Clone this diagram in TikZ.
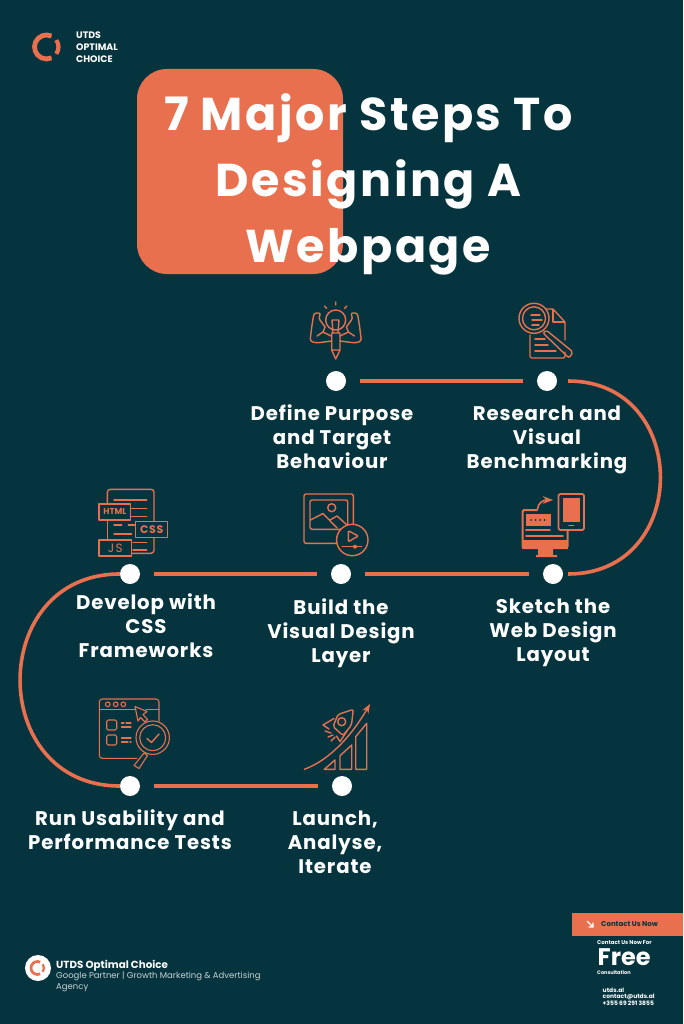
\documentclass[tikz,border=0pt]{standalone}
\usepackage{fontspec}
\setmainfont{Poppins}
\usetikzlibrary{calc,positioning,arrows.meta}
\definecolor{bgteal}{HTML}{05343F}
\definecolor{coral}{HTML}{E8704F}
\definecolor{softgrey}{HTML}{C9D3D5}

\begin{document}
\begin{tikzpicture}[x=1pt,y=-1pt,>=Stealth,
	dot/.style={circle,fill=white,inner sep=0pt,minimum size=20pt},
	road/.style={draw=coral,line width=3.6pt},
	steplabel/.style={text=white,align=center,font=\fontsize{19.7}{24}\selectfont\bfseries\addfontfeatures{LetterSpace=4.5}},
	icn/.style={draw=coral,line width=1.4pt,line join=round,line cap=round},
	thinicn/.style={icn,line width=1.1pt},
	iconword/.style={text=coral,inner sep=0pt,font=\fontsize{8.5}{8.5}\selectfont\bfseries}
	]

	\useasboundingbox (0,0) rectangle (683,1024);
	\fill[bgteal] (0,0) rectangle (683,1024);

	% logo top left
	\draw[coral,line width=4.8pt] (51.6,36.1) arc (-65:-295:12);
	\draw[coral,line width=4.2pt] (56.3,40.1) arc (-35:35:12);
	\node[anchor=west,text=white,align=left,inner sep=0pt,font=\fontsize{9.4}{12}\selectfont\bfseries] (brand) at (76,47) {UTDS\\OPTIMAL\\CHOICE};

	% title
	\fill[coral,rounded corners=30pt] (137,69) rectangle (343,274);
	\node[text=white,align=center,font=\fontsize{46}{66}\selectfont\bfseries\addfontfeatures{LetterSpace=5.5}] (title) at (368.5,184) {7 Major Steps To\\Designing A\\Webpage};

	% stops
	\node[dot] (n1) at (336,381) {};
	\node[dot] (n2) at (547,381) {};
	\node[dot] (n3) at (553,574) {};
	\node[dot] (n4) at (341,574) {};
	\node[dot] (n5) at (130,574) {};
	\node[dot] (n6) at (130,786) {};
	\node[dot] (n7) at (342,786) {};

	\draw[road,shorten <=14pt,shorten >=14pt] (n1) -- (n2);
	\draw[road,shorten <=11pt,shorten >=5pt] (n2.east) .. controls +(134,0) and +(128,0) .. (n3.east);
	\draw[road,shorten <=14pt,shorten >=14pt] (n3) -- (n4);
	\draw[road,shorten <=14pt,shorten >=14pt] (n4) -- (n5);
	\draw[road] (n5.west) .. controls +(-133,0) and +(-133,0) .. (n6.west);
	\draw[road,shorten <=14pt,shorten >=14pt] (n6) -- (n7);

	\node[steplabel] (l1) at (332,437) {Define Purpose\\and Target\\Behaviour};
	\node[steplabel] (l2) at (547,440) {Research and\\Visual\\Benchmarking};
	\node[steplabel] (l3) at (553,633) {Sketch the\\Web Design\\Layout};
	\node[steplabel] (l4) at (341,633) {Build the\\Visual Design\\Layer};
	\node[steplabel] (l5) at (146,626) {Develop with\\CSS\\Frameworks};
	\node[steplabel] (l6) at (130,830) {Run Usability and\\Performance Tests};
	\node[steplabel] (l7) at (335,842) {Launch,\\Analyse,\\Iterate};

	% bulb and arms
	\draw[icn] (335.7,320) circle (10);
	\draw[icn] (335.7,302) -- (335.7,305) (324.5,306) -- (326.7,308.3) (346.9,306) -- (344.7,308.3);
	\draw[icn] (331.7,333) -- (331.7,350) -- (335.7,359) -- (340,350) -- (340,333) -- cycle (331.7,350) -- (340,350);
	\draw[icn] (332,320) -- (333,333) (339,320) -- (338,333) (332,320) -- (339,320);
	\draw[icn,rounded corners=2.5pt] (325,327) -- (318.5,318) -- (321,313) -- (314,313) -- (312,325) -- (310,341) -- (316,343) -- (331.7,341);
	\draw[icn,rounded corners=2.5pt] (346.4,327) -- (352.9,318) -- (350.4,313) -- (357.4,313) -- (359.4,325) -- (361.4,341) -- (355.4,343) -- (340,341);
	\draw[icn] (317,336) -- (323,332) -- (331,336) (354.4,336) -- (348.4,332) -- (340,336);
	\draw[icn] (325,327) -- (323,332) (346.4,327) -- (348.4,332);

	% magnifier on a document
	\draw[icn,rounded corners=1.5pt] (546,309) -- (553,309) -- (565,322) -- (565,340) (565,352) -- (565,358) -- (530,358) -- (530,335);
	\draw[icn] (553,309) -- (553,322) -- (565,322);
	\draw[icn] (534,318.3) circle (15);
	\draw[icn] (534,318.3) circle (11.5);
	\draw[icn] (531,315) -- (540,315) (532,320) -- (542,320) (532,325) -- (539,325) (535,339) -- (545,339) (535,345) -- (548,345) (535,351) -- (556,351);
	\draw[icn,rounded corners=2pt] (543,333) -- (546,330) -- (573,352) -- (569,358) -- cycle;

	% screen and tablet
	\draw[icn,line width=2pt,rounded corners=1.5pt] (537,510) -- (522.5,510) -- (522.5,548) -- (567.5,548) -- (567.5,531);
	\fill[coral] (522,540) rectangle (568,549);
	\fill[coral] (538,549) rectangle (553,555) (536,555) rectangle (557,557);
	\fill[coral] (526,514) rectangle (551,526);
	\foreach \i in {531,535.5,540,544.5} \fill[bgteal] (\i,520) circle (1);
	\draw[icn,line width=1.6pt] (526,530) -- (550,530) (526,536) -- (563,536);
	\draw[icn,line width=1.8pt,rounded corners=2pt] (558.5,494) rectangle (584,530);
	\fill[coral] (562.7,498.3) rectangle (580,521.7);
	\draw[icn,line width=1.6pt] (569,525.5) -- (573.5,525.5);
	\draw[icn,line width=1.6pt,->] (537.5,509) .. controls (538,503) and (543,500) .. (553,500);

	% picture with play button
	\draw[icn,rounded corners=2pt] (304,494) rectangle (353.3,543.3);
	\draw[icn,rounded corners=2pt] (310,500) rectangle (347.7,529.3);
	\draw[icn] (331.7,507.7) circle (4);
	\draw[icn] (310.5,520) -- (323,513.5) -- (337,528) (330,520) -- (337,516) -- (347,525);
	\draw[icn,fill=bgteal] (352.3,540) circle (15.7);
	\draw[icn,rounded corners=1pt] (348.3,530.7) -- (358.3,536) -- (348.3,541.7) -- cycle;
	\draw[icn] (342.3,546.7) -- (361.7,546.7);
	\fill[coral] (355,546.7) circle (2);

	% code sheet
	\draw[icn,rounded corners=3pt] (107.3,504) -- (107.3,489.3) -- (154,489.3) -- (154,521.7) (154,537.7) -- (154,553.3) -- (131.7,553.3);
	\draw[icn] (107.3,520) -- (107.3,540);
	\draw[icn] (114,500) -- (146.7,500) (131.7,508.3) -- (146.7,508.3) (131.7,516.7) -- (146.7,516.7);
	\draw[icn] (114,525) -- (121.7,525) (128.3,525) -- (135,525) (114,534) -- (131.7,534) (133,542.7) -- (146.7,542.7) (133,550) -- (146.7,550);
	\node[icn,rectangle,inner sep=0pt,minimum width=31.7pt,minimum height=16pt,iconword] (html) at (114.9,512) {HTML};
	\node[icn,rectangle,inner sep=0pt,minimum width=32pt,minimum height=16pt,iconword,font=\fontsize{11}{11}\selectfont\bfseries\addfontfeatures{LetterSpace=6}] (css) at (151.7,529.7) {CSS};
	\node[icn,rectangle,inner sep=0pt,minimum width=32.7pt,minimum height=16pt,iconword,font=\fontsize{12}{12}\selectfont\addfontfeatures{LetterSpace=10}] (js) at (115.3,548) {JS};

	% browser window under test
	\draw[thinicn,rounded corners=3pt] (137,758.3) -- (99.3,758.3) -- (99.3,699) -- (159,699) -- (159,721);
	\draw[thinicn] (99.3,709.3) -- (136,709.3) (146,709.3) -- (159,709.3);
	\foreach \i in {107.7,115.7,123.3} \draw[thinicn] (\i,704.3) circle (2.3);
	\draw[thinicn,rounded corners=1.5pt] (106.7,720) rectangle (116.7,730) (106.7,735) rectangle (116.7,745);
	\draw[thinicn] (121.5,723) -- (124,723) (126,723) -- (131,723) (121.5,727) -- (131,727) (121.5,738) -- (131,738) (121.5,742) -- (128,742) (130,742) -- (131,742);
	\draw[thinicn] (135,706.5) -- (147,711.5) -- (143,714.5) -- (147.5,719.5) -- (145,722) -- (140.5,717.5) -- (138,721) -- cycle;
	\draw[thinicn,fill=bgteal] (144,753) -- (147.5,755.5) -- (139,768.5) -- (134,765.5) -- cycle;
	\draw[thinicn,fill=bgteal] (152.7,737.7) circle (16.7);
	\draw[thinicn] (152.7,737.7) circle (13);
	\draw[icn] (147,738.5) -- (151.5,742.5) -- (159,734);

	% rocket and bars
	\draw[icn,->] (304.3,769.3) .. controls (330,760) and (352,735) .. (370,704);
	\draw[icn] (324.3,769.3) -- (335,769.3) -- (335,760) -- cycle;
	\draw[icn] (340,769.3) -- (351.7,769.3) -- (351.7,745) -- (340,755.7) -- cycle;
	\draw[icn] (355.7,769.3) -- (366.7,769.3) -- (366.7,723.3) -- (355.7,736.7) -- cycle;
	\draw[icn,rounded corners=2pt] (353.3,709.3) -- (338,714.5) -- (333,726.5) -- (343,735.5) -- (351.5,725) -- cycle;
	\draw[icn] (341.7,721.7) circle (4);
	\draw[icn] (334,718.5) -- (323,725) -- (329,729) (347,731) -- (340,741.5) -- (336.5,736);
	\draw[icn] (325,731) -- (331,733) (328,737) -- (333,735) (331,741) -- (335,737);

	% footer
	\node[circle,fill=white,inner sep=0pt,minimum size=26pt] (footlogo) at (38,968) {};
	\draw[coral,line width=2.7pt] (40.25,962.1) arc (-65:-295:6.5);
	\draw[coral,line width=2.3pt] (42.8,964.3) arc (-35:35:6.5);
	\node[anchor=base west,inner sep=0pt,text=white,font=\fontsize{10.3}{10.3}\selectfont\bfseries] (footname) at (56,968.5) {UTDS Optimal Choice};
	\node[anchor=base west,inner sep=0pt,text=softgrey,font=\fontsize{8.5}{8.5}\selectfont] (foottag) at (56,978.5) {Google Partner | Growth Marketing \& Advertising};
	\node[anchor=base west,inner sep=0pt,text=softgrey,font=\fontsize{8.5}{8.5}\selectfont] (footagency) at (56,989.5) {Agency};

	% contact block
	\fill[coral] (572,913) rectangle (683,936);
	\draw[white,line width=1.2pt] (587,921) -- (593,927) (593,922.5) -- (593,927) -- (588.5,927);
	\node[anchor=west,inner sep=0pt,text=bgteal,font=\fontsize{7}{7}\selectfont\bfseries] (cta) at (601,924) {Contact Us Now};
	\node[anchor=base west,inner sep=0pt,text=white,font=\fontsize{5.5}{5.5}\selectfont\bfseries] (offer) at (597,944) {Contact Us Now For};
	\node[anchor=base west,inner sep=0pt,text=white,text depth=0pt,font=\fontsize{24}{24}\selectfont\bfseries] (free) at (597.5,965.5) {Free};
	\node[anchor=base west,inner sep=0pt,text=white,text height=3pt,font=\fontsize{5}{5}\selectfont\bfseries] (consult) at (597,974.5) {Consultation};
	\node[anchor=north west,inner sep=0pt,align=left,text=white,font=\fontsize{6}{6.5}\selectfont\bfseries] (reach) at (602.5,987.5) {utds.al\\contact@utds.al\\+355 69 291 3855};

\end{tikzpicture}
\end{document}
